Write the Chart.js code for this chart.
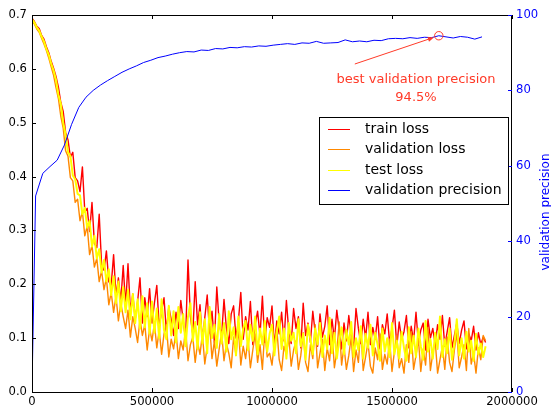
<!DOCTYPE html>
<html>
<head>
<meta charset="utf-8">
<script src="https://cdn.jsdelivr.net/npm/chart.js@4.4.1/dist/chart.umd.min.js"></script>
<style>
  html, body { margin: 0; padding: 0; background: #fff; }
  #wrap { width: 551px; height: 411px; }
</style>
</head>
<body>
<div id="wrap"><canvas id="lossChart" width="551" height="411"></canvas></div>
<script>
// ---------- Data ----------
// loss curves are sampled every 10000 iterations, starting at 0 (one row = 100000)
const LOSS_STEP = 10000;

const trainLoss = [
  0.694, 0.688, 0.679, 0.675, 0.662, 0.655, 0.641, 0.630, 0.614, 0.601,
  0.586, 0.566, 0.538, 0.521, 0.482, 0.468, 0.436, 0.445, 0.398, 0.392,
  0.372, 0.418, 0.335, 0.341, 0.298, 0.352, 0.276, 0.268, 0.330, 0.236,
  0.226, 0.262, 0.205, 0.198, 0.255, 0.178, 0.212, 0.168, 0.235, 0.160,
  0.238, 0.150, 0.182, 0.135, 0.168, 0.212, 0.128, 0.175, 0.140, 0.192,
  0.128, 0.165, 0.198, 0.120, 0.150, 0.175, 0.112, 0.158, 0.135, 0.105,
  0.148, 0.118, 0.170, 0.132, 0.098, 0.245, 0.140, 0.108, 0.205, 0.125,
  0.162, 0.095, 0.138, 0.180, 0.110, 0.150, 0.092, 0.195, 0.128, 0.105,
  0.172, 0.118, 0.090, 0.145, 0.160, 0.100, 0.132, 0.185, 0.098, 0.140,
  0.115, 0.168, 0.088, 0.125, 0.150, 0.105, 0.178, 0.092, 0.138, 0.120,
  0.160, 0.085, 0.132, 0.108, 0.148, 0.095, 0.170, 0.112, 0.090, 0.155,
  0.118, 0.140, 0.082, 0.165, 0.105, 0.128, 0.092, 0.150, 0.110, 0.085,
  0.145, 0.102, 0.122, 0.160, 0.088, 0.135, 0.098, 0.152, 0.115, 0.080,
  0.128, 0.095, 0.142, 0.105, 0.082, 0.155, 0.118, 0.090, 0.135, 0.100,
  0.148, 0.088, 0.120, 0.098, 0.140, 0.080, 0.125, 0.108, 0.145, 0.092,
  0.118, 0.152, 0.085, 0.130, 0.098, 0.112, 0.142, 0.082, 0.122, 0.095,
  0.148, 0.090, 0.115, 0.128, 0.078, 0.135, 0.100, 0.118, 0.088, 0.125,
  0.098, 0.142, 0.085, 0.112, 0.138, 0.082, 0.105, 0.128, 0.090, 0.115,
  0.132, 0.080, 0.108, 0.095, 0.122, 0.078, 0.110, 0.088, 0.102, 0.092
];

const valLoss = [
  0.690, 0.683, 0.674, 0.668, 0.657, 0.646, 0.634, 0.620, 0.604, 0.588,
  0.565, 0.545, 0.512, 0.490, 0.448, 0.438, 0.398, 0.392, 0.352, 0.358,
  0.318, 0.335, 0.290, 0.308, 0.255, 0.272, 0.232, 0.248, 0.205, 0.225,
  0.190, 0.212, 0.162, 0.185, 0.148, 0.178, 0.132, 0.165, 0.140, 0.118,
  0.152, 0.102, 0.140, 0.118, 0.092, 0.135, 0.105, 0.125, 0.078, 0.118,
  0.095, 0.128, 0.082, 0.115, 0.070, 0.108, 0.125, 0.065, 0.098, 0.080,
  0.112, 0.062, 0.095, 0.078, 0.118, 0.058, 0.088, 0.102, 0.055, 0.092,
  0.070, 0.108, 0.052, 0.085, 0.125, 0.062, 0.095, 0.048, 0.080, 0.112,
  0.058, 0.090, 0.072, 0.045, 0.102, 0.068, 0.118, 0.050, 0.085, 0.062,
  0.098, 0.045, 0.078, 0.108, 0.055, 0.088, 0.042, 0.115, 0.065, 0.072,
  0.050, 0.092, 0.118, 0.060, 0.040, 0.085, 0.070, 0.102, 0.048, 0.078,
  0.095, 0.042, 0.068, 0.110, 0.055, 0.038, 0.088, 0.062, 0.125, 0.045,
  0.072, 0.098, 0.040, 0.082, 0.058, 0.112, 0.045, 0.075, 0.130, 0.050,
  0.085, 0.042, 0.068, 0.102, 0.038, 0.078, 0.055, 0.118, 0.040, 0.065,
  0.092, 0.048, 0.035, 0.082, 0.060, 0.108, 0.042, 0.070, 0.052, 0.098,
  0.038, 0.075, 0.105, 0.045, 0.062, 0.035, 0.088, 0.055, 0.112, 0.042,
  0.068, 0.098, 0.038, 0.080, 0.050, 0.120, 0.040, 0.072, 0.095, 0.035,
  0.060, 0.085, 0.042, 0.102, 0.055, 0.038, 0.078, 0.110, 0.045, 0.065,
  0.088, 0.040, 0.118, 0.052, 0.072, 0.035, 0.082, 0.060, 0.105, 0.095
];

const testLoss = [
  0.692, 0.686, 0.677, 0.671, 0.660, 0.651, 0.637, 0.626, 0.610, 0.597,
  0.580, 0.552, 0.535, 0.500, 0.478, 0.445, 0.438, 0.402, 0.395, 0.368,
  0.365, 0.330, 0.342, 0.305, 0.318, 0.270, 0.290, 0.248, 0.265, 0.222,
  0.245, 0.205, 0.228, 0.180, 0.215, 0.165, 0.205, 0.150, 0.195, 0.148,
  0.190, 0.135, 0.182, 0.128, 0.172, 0.118, 0.178, 0.120, 0.165, 0.108,
  0.168, 0.110, 0.155, 0.100, 0.172, 0.115, 0.098, 0.160, 0.105, 0.150,
  0.092, 0.158, 0.110, 0.145, 0.085, 0.140, 0.165, 0.095, 0.130, 0.080,
  0.148, 0.090, 0.135, 0.072, 0.158, 0.100, 0.125, 0.082, 0.145, 0.090,
  0.128, 0.075, 0.150, 0.098, 0.120, 0.068, 0.140, 0.085, 0.118, 0.132,
  0.078, 0.125, 0.095, 0.140, 0.070, 0.118, 0.088, 0.132, 0.075, 0.108,
  0.125, 0.068, 0.112, 0.140, 0.080, 0.118, 0.062, 0.128, 0.095, 0.110,
  0.072, 0.135, 0.085, 0.108, 0.060, 0.125, 0.098, 0.070, 0.118, 0.088,
  0.128, 0.065, 0.105, 0.080, 0.138, 0.072, 0.110, 0.062, 0.095, 0.120,
  0.070, 0.115, 0.088, 0.130, 0.065, 0.100, 0.078, 0.122, 0.062, 0.108,
  0.082, 0.125, 0.068, 0.110, 0.088, 0.058, 0.118, 0.075, 0.100, 0.065,
  0.128, 0.070, 0.095, 0.062, 0.112, 0.082, 0.058, 0.120, 0.072, 0.105,
  0.065, 0.118, 0.085, 0.060, 0.132, 0.075, 0.098, 0.062, 0.110, 0.080,
  0.140, 0.065, 0.098, 0.072, 0.118, 0.060, 0.090, 0.135, 0.068, 0.100,
  0.062, 0.112, 0.075, 0.095, 0.058, 0.108, 0.070, 0.090, 0.065, 0.085
];

// validation precision (%): first point at 0, then every 30000 from 15000
const precision = [
  1.0, 52.0, 58.0, 59.8, 61.5, 65.5, 71.0, 75.5, 78.2, 80.0,
  81.4, 82.6, 83.7, 84.8, 85.7, 86.5, 87.4, 88.0, 88.7, 89.1,
  89.6, 90.0, 90.3, 90.2, 90.7, 90.6, 91.1, 91.0, 91.4, 91.3,
  91.6, 91.5, 91.8, 91.7, 92.0, 92.2, 92.4, 92.2, 92.6, 92.5,
  93.0, 92.5, 92.6, 92.7, 93.4, 92.9, 93.1, 92.9, 93.3, 93.2,
  93.7, 93.8, 93.7, 94.0, 93.8, 94.1, 94.0, 94.5, 94.2, 93.9,
  94.3, 94.1, 93.6, 94.2
];

const xTicks = [0, 500000, 1000000, 1500000, 2000000];
const lossTicks = [0, 0.1, 0.2, 0.3, 0.4, 0.5, 0.6, 0.7];
const precTicks = [0, 20, 40, 60, 80, 100];

const seriesNames = ['train loss', 'validation loss', 'test loss', 'validation precision'];
const seriesColors = ['#ff0000', '#ff8800', '#ffff00', '#0000ff'];
const noteColor = '#ff3a28';
const FONT = '"DejaVu Sans", sans-serif';

// ---------- Helpers ----------
function lossPoints(arr) {
  return arr.map((v, i) => ({ x: i * LOSS_STEP, y: v }));
}
function precPoints(arr) {
  return arr.map((v, i) => ({ x: i === 0 ? 0 : 15000 + (i - 1) * 30000, y: v }));
}

const precData = precPoints(precision);
let best = precData[0];
precData.forEach(p => { if (p.y > best.y) best = p; });

// ---------- Frame, inward ticks, legend, annotation ----------
const decorPlugin = {
  id: 'decor',
  afterDatasetsDraw(chart) {
    const { ctx, chartArea: a, scales } = chart;
    const x = scales.x, y = scales.y, y2 = scales.y2;
    ctx.save();

    // spines
    ctx.strokeStyle = '#000';
    ctx.lineWidth = 1;
    ctx.strokeRect(a.left + 0.5, a.top + 0.5, a.right - a.left - 1, a.bottom - a.top);

    // inward ticks
    ctx.beginPath();
    xTicks.forEach(v => {
      const px = Math.round(x.getPixelForValue(v)) + 0.5;
      ctx.moveTo(px, a.bottom); ctx.lineTo(px, a.bottom - 4);
      ctx.moveTo(px, a.top); ctx.lineTo(px, a.top + 4);
    });
    lossTicks.forEach(v => {
      const py = Math.round(y.getPixelForValue(v)) + 0.5;
      ctx.moveTo(a.left, py); ctx.lineTo(a.left + 4, py);
    });
    ctx.stroke();
    ctx.strokeStyle = '#0000ff';
    ctx.beginPath();
    precTicks.forEach(v => {
      const py = Math.round(y2.getPixelForValue(v)) + 0.5;
      ctx.moveTo(a.right - 4, py); ctx.lineTo(a.right, py);
    });
    ctx.stroke();

    // right axis title, reads bottom to top
    ctx.save();
    ctx.translate(546, 212);
    ctx.rotate(-Math.PI / 2);
    ctx.fillStyle = '#0000ff';
    ctx.font = '12px ' + FONT;
    ctx.textAlign = 'center';
    ctx.textBaseline = 'middle';
    ctx.fillText('validation precision', 0, 0);
    ctx.restore();

    // legend box
    const lx = 319, ly = 117, lw = 189, lh = 87;
    ctx.fillStyle = '#fff';
    ctx.fillRect(lx, ly, lw, lh);
    ctx.strokeStyle = '#000';
    ctx.strokeRect(lx + 0.5, ly + 0.5, lw, lh);
    ctx.font = '14px ' + FONT;
    ctx.textBaseline = 'middle';
    ctx.textAlign = 'left';
    seriesNames.forEach((name, i) => {
      const ry = Math.round(129 + i * 20.3) + 0.5;
      ctx.strokeStyle = seriesColors[i];
      ctx.beginPath();
      ctx.moveTo(328, ry); ctx.lineTo(350, ry);
      ctx.stroke();
      ctx.fillStyle = '#000';
      ctx.fillText(name, 365, ry);
    });

    // best precision marker + arrow
    const cx = x.getPixelForValue(best.x), cy = y2.getPixelForValue(best.y);
    const r = 4.2;
    ctx.strokeStyle = noteColor;
    ctx.lineWidth = 1;
    ctx.beginPath();
    ctx.arc(cx, cy, r, 0, Math.PI * 2);
    ctx.stroke();

    const tx = x.getPixelForValue(1345000), ty = y2.getPixelForValue(87.0);
    const dx = cx - tx, dy = cy - ty, len = Math.hypot(dx, dy);
    const ux = dx / len, uy = dy / len;
    const hx = cx - ux * (r + 1), hy = cy - uy * (r + 1);
    ctx.beginPath();
    ctx.moveTo(tx, ty); ctx.lineTo(hx - ux * 5, hy - uy * 5);
    ctx.stroke();
    ctx.fillStyle = noteColor;
    ctx.beginPath();
    ctx.moveTo(hx, hy);
    ctx.lineTo(hx - ux * 6 - uy * 2.5, hy - uy * 6 + ux * 2.5);
    ctx.lineTo(hx - ux * 6 + uy * 2.5, hy - uy * 6 - ux * 2.5);
    ctx.closePath();
    ctx.fill();

    // note text
    ctx.font = '13px ' + FONT;
    ctx.textAlign = 'center';
    ctx.fillText('best validation precision', x.getPixelForValue(1600000), y2.getPixelForValue(82.8));
    ctx.fillText(best.y.toFixed(1) + '%', x.getPixelForValue(1600000), y2.getPixelForValue(78.0));

    ctx.restore();
  }
};

// ---------- Chart ----------
const lossLine = { yAxisID: 'y', borderJoinStyle: 'round' };
const ctx = document.getElementById('lossChart').getContext('2d');
const chart = new Chart(ctx, {
  type: 'line',
  data: {
    datasets: [
      { ...lossLine, label: seriesNames[0], data: lossPoints(trainLoss), borderColor: seriesColors[0], borderWidth: 1.4, order: 3 },
      { ...lossLine, label: seriesNames[1], data: lossPoints(valLoss), borderColor: seriesColors[1], borderWidth: 1.4, order: 2 },
      { ...lossLine, label: seriesNames[2], data: lossPoints(testLoss), borderColor: seriesColors[2], borderWidth: 2, order: 1 },
      { label: seriesNames[3], data: precData, yAxisID: 'y2', borderColor: seriesColors[3], borderWidth: 1, order: 0 }
    ]
  },
  options: {
    responsive: false,
    animation: false,
    devicePixelRatio: 1,
    layout: { padding: { top: 15, left: 0, right: 0, bottom: 0 } },
    elements: {
      line: { borderWidth: 1, tension: 0, fill: false },
      point: { radius: 0, hoverRadius: 0 }
    },
    plugins: { legend: { display: false }, tooltip: { enabled: false } },
    scales: {
      x: {
        type: 'linear', min: 0, max: 2000000,
        grid: { display: false, drawTicks: false },
        border: { display: false },
        afterBuildTicks: s => { s.ticks = xTicks.map(v => ({ value: v })); },
        afterFit: s => { s.height = 19; },
        ticks: {
          color: '#000', font: { family: FONT, size: 11.6 }, padding: 3,
          maxRotation: 0, autoSkip: false,
          callback: v => String(v)
        }
      },
      y: {
        position: 'left', min: 0, max: 0.7,
        grid: { display: false, drawTicks: false },
        border: { display: false },
        afterBuildTicks: s => { s.ticks = lossTicks.map(v => ({ value: v })); },
        afterFit: s => { s.width = 32; },
        ticks: {
          color: '#000', font: { family: FONT, size: 11.6 }, padding: 5,
          callback: v => v.toFixed(1)
        }
      },
      y2: {
        position: 'right', min: 0, max: 100,
        grid: { display: false, drawTicks: false },
        border: { display: false },
        afterBuildTicks: s => { s.ticks = precTicks.map(v => ({ value: v })); },
        afterFit: s => { s.width = 39; },
        ticks: {
          color: '#0000ff', font: { family: FONT, size: 11.6 }, padding: 4,
          callback: v => String(v)
        }
      }
    }
  },
  plugins: [decorPlugin]
});
</script>
</body>
</html>
